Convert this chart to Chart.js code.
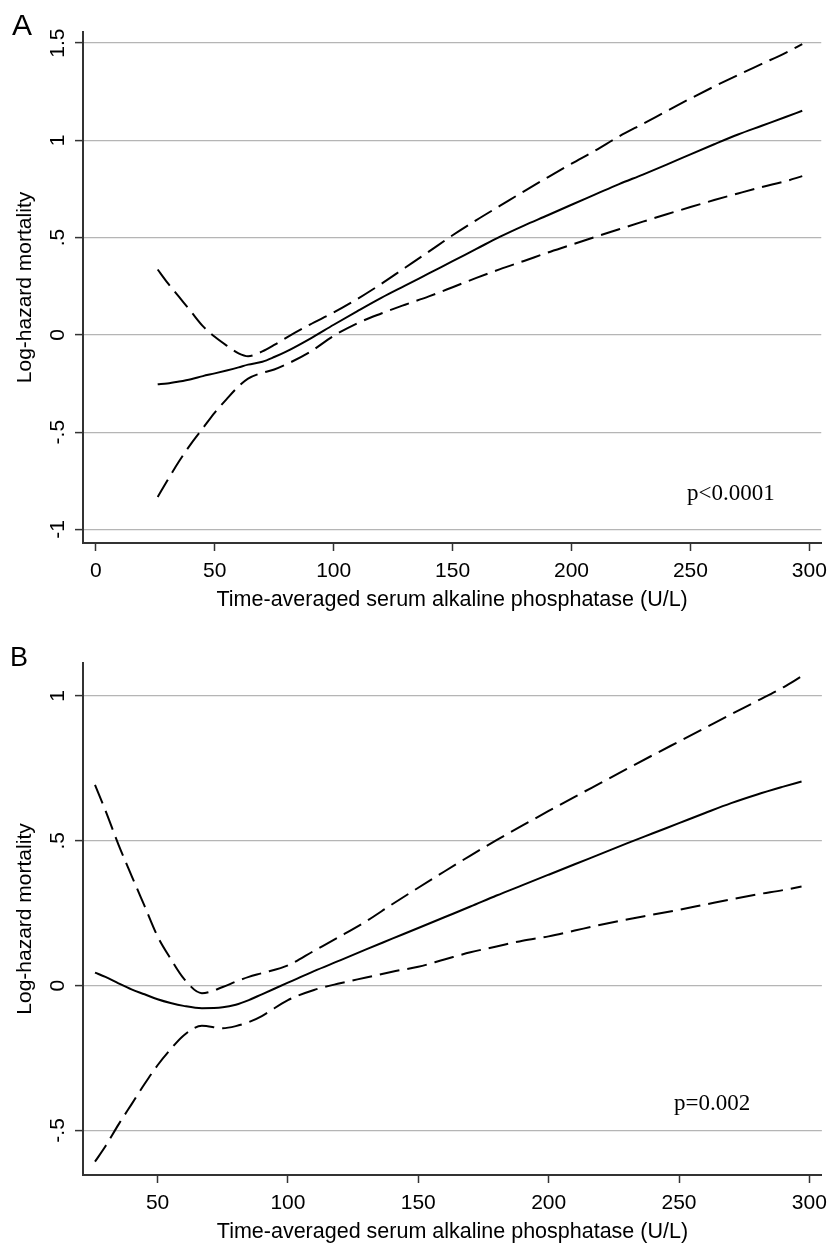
<!DOCTYPE html>
<html>
<head>
<meta charset="utf-8">
<script src="https://cdn.jsdelivr.net/npm/chart.js@4/dist/chart.umd.min.js"></script>
<style>
  body { margin: 0; background: #fff; width: 835px; height: 1243px; position: relative; overflow: hidden; }
  canvas { position: absolute; left: 0; }
  #chartA { top: 0; }
  #chartB { top: 620px; }
  .panel { position: absolute; font-family: "Liberation Sans", Arial, sans-serif; line-height: 1; color: #000; }
  .pval { position: absolute; font-family: "Liberation Serif", "Times New Roman", serif; font-size: 23px; line-height: 1; color: #000; }
</style>
</head>
<body>
<canvas id="chartA" width="835" height="620"></canvas>
<canvas id="chartB" width="835" height="623"></canvas>
<div class="panel" style="left:12px; top:10px; font-size:30px;">A</div>
<div class="panel" style="left:10px; top:644px; font-size:27px;">B</div>
<div class="pval" style="left:687px; top:481px;">p&lt;0.0001</div>
<div class="pval" style="left:674px; top:1091px;">p=0.002</div>
<script>
// --- Painel A: dados ---
const xA = [26, 30, 35, 40, 45, 50, 55, 60, 64, 70, 75, 80, 90, 100, 110, 120, 130, 140, 150,
  160, 170, 180, 190, 200, 210, 220, 230, 240, 250, 260, 270, 280, 290, 297];
const fitA = [-0.254, -0.25, -0.24, -0.228, -0.212, -0.198, -0.183, -0.167, -0.153, -0.138, -0.114, -0.086,
  -0.02, 0.052, 0.122, 0.19, 0.253, 0.316, 0.379, 0.442, 0.505, 0.562, 0.615, 0.669, 0.722, 0.775,
  0.824, 0.875, 0.928, 0.98, 1.03, 1.075, 1.12, 1.152];
const upperA = [0.336, 0.27, 0.195, 0.12, 0.045, -0.01, -0.055, -0.095, -0.11, -0.085, -0.052, -0.015,
  0.053, 0.115, 0.185, 0.262, 0.345, 0.428, 0.512, 0.59, 0.664, 0.738, 0.81, 0.88, 0.948, 1.02, 1.085,
  1.15, 1.215, 1.277, 1.336, 1.393, 1.45, 1.495];
const lowerA = [-0.833, -0.75, -0.65, -0.56, -0.48, -0.4, -0.33, -0.265, -0.225, -0.195, -0.178, -0.152,
  -0.088, -0.005, 0.06, 0.11, 0.155, 0.198, 0.245, 0.293, 0.338, 0.38, 0.423, 0.463, 0.504, 0.543,
  0.582, 0.62, 0.657, 0.693, 0.727, 0.76, 0.79, 0.816];
const xTicksA = [0, 50, 100, 150, 200, 250, 300];
const yTicksA = [-1, -0.5, 0, 0.5, 1, 1.5];
const yLabelsA = ['-1', '-.5', '0', '.5', '1', '1.5'];

// --- Painel B ---
const xB = [26, 30, 35, 40, 45, 50, 55, 60, 67, 75, 80, 85, 90, 100, 110, 120, 130, 140, 150,
  160, 170, 180, 190, 200, 210, 220, 230, 240, 250, 260, 270, 280, 290, 297];
const fitB = [0.045, 0.03, 0.008, -0.013, -0.03, -0.047, -0.06, -0.07, -0.078, -0.075, -0.066,
  -0.05, -0.03, 0.01, 0.05, 0.087, 0.125, 0.162, 0.199, 0.236, 0.273, 0.311, 0.347, 0.383, 0.419,
  0.455, 0.491, 0.526, 0.561, 0.596, 0.63, 0.66, 0.687, 0.705];
const upperB = [0.693, 0.605, 0.487, 0.38, 0.275, 0.17, 0.093, 0.025, -0.026, -0.005, 0.014,
  0.03, 0.043, 0.07, 0.12, 0.17, 0.222, 0.281, 0.338, 0.394, 0.449, 0.502, 0.553, 0.603, 0.652,
  0.7, 0.748, 0.796, 0.843, 0.89, 0.937, 0.983, 1.03, 1.068];
const lowerB = [-0.608, -0.555, -0.48, -0.41, -0.34, -0.275, -0.22, -0.172, -0.139, -0.147,
  -0.14, -0.126, -0.105, -0.05, -0.015, 0.008, 0.028, 0.048, 0.065, 0.09, 0.115, 0.135, 0.155, 0.17,
  0.19, 0.21, 0.228, 0.245, 0.262, 0.28, 0.298, 0.315, 0.33, 0.342];
const xTicksB = [50, 100, 150, 200, 250, 300];
const yTicksB = [-0.5, 0, 0.5, 1];
const yLabelsB = ['-.5', '0', '.5', '1'];

const xTitle = 'Time-averaged serum alkaline phosphatase (U/L)';
const yTitle = 'Log-hazard mortality';

const FONT = "'Liberation Sans', Arial, sans-serif";
const AXIS_COLOR = '#333';
const GRID_COLOR = '#b5b5b5';

const toPoints = (xs, ys) => xs.map((x, i) => ({ x: x, y: ys[i] }));

const lineDataset = (xs, ys, dashed) => ({
  data: toPoints(xs, ys),
  showLine: true,
  borderColor: '#000',
  borderWidth: 2,
  borderDash: dashed ? [20, 8] : [],
  pointRadius: 0,
  cubicInterpolationMode: 'monotone',
  fill: false
});

function makeChart(canvasId, cfg) {
  return new Chart(document.getElementById(canvasId), {
    type: 'scatter',
    data: {
      datasets: [
        lineDataset(cfg.xs, cfg.upper, true),
        lineDataset(cfg.xs, cfg.fit, false),
        lineDataset(cfg.xs, cfg.lower, true)
      ]
    },
    options: {
      responsive: false,
      animation: false,
      devicePixelRatio: 1,
      layout: { padding: { top: cfg.padTop, right: 7, left: 0, bottom: 0 } },
      plugins: { legend: { display: false }, tooltip: { enabled: false } },
      scales: {
        x: {
          type: 'linear',
          min: cfg.xMin,
          max: cfg.xMax,
          afterBuildTicks: (scale) => { scale.ticks = cfg.xTicks.map(v => ({ value: v })); },
          afterFit: (scale) => { scale.height = cfg.xAxisHeight; },
          grid: { drawOnChartArea: false, drawTicks: true, tickLength: 8, tickColor: AXIS_COLOR, tickWidth: 1.5 },
          border: { color: AXIS_COLOR, width: 2 },
          ticks: { color: '#000', font: { family: FONT, size: 21 }, padding: 8, maxRotation: 0 },
          title: { display: true, text: xTitle, color: '#000', font: { family: FONT, size: 21.5, lineHeight: 1 },
                   padding: { top: 0, bottom: cfg.xTitlePad } }
        },
        y: {
          type: 'linear',
          min: cfg.yMin,
          max: cfg.yMax,
          afterBuildTicks: (scale) => { scale.ticks = cfg.yTicks.map(v => ({ value: v })); },
          afterFit: (scale) => { scale.width = 83; },
          grid: { color: GRID_COLOR, lineWidth: 1.2, drawTicks: true, tickLength: 8, tickColor: AXIS_COLOR, tickWidth: 1.5 },
          border: { color: AXIS_COLOR, width: 2 },
          ticks: {
            color: '#000',
            font: { family: FONT, size: 21 },
            minRotation: 90,
            maxRotation: 90,
            crossAlign: 'center',
            padding: cfg.yTickPad,
            callback: (value) => {
              const i = cfg.yTicks.indexOf(value);
              return i >= 0 ? cfg.yLabels[i] : '';
            }
          },
          title: { display: true, text: yTitle, color: '#000', font: { family: FONT, size: 21, lineHeight: 1 },
                   padding: { top: 15, bottom: 0 } }
        }
      }
    }
  });
}

makeChart('chartA', {
  xs: xA, fit: fitA, upper: upperA, lower: lowerA,
  xMin: -5.4, xMax: 305, yMin: -1.07, yMax: 1.557,
  xTicks: xTicksA, yTicks: yTicksA, yLabels: yLabelsA,
  padTop: 32, xAxisHeight: 77, xTitlePad: 9.5, yTickPad: 2
});

makeChart('chartB', {
  xs: xB, fit: fitB, upper: upperB, lower: lowerB,
  xMin: 21.4, xMax: 304.8, yMin: -0.654, yMax: 1.114,
  xTicks: xTicksB, yTicks: yTicksB, yLabels: yLabelsB,
  padTop: 43, xAxisHeight: 68, xTitlePad: 0, yTickPad: 4.5
});
</script>
</body>
</html>
